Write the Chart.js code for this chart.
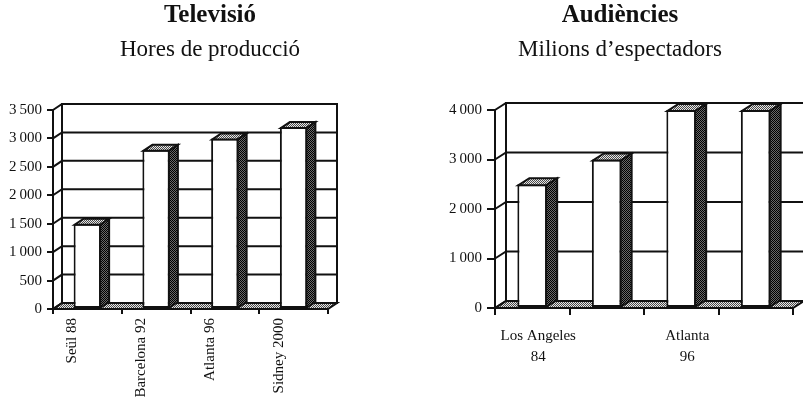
<!DOCTYPE html>
<html>
<head>
<meta charset="utf-8">
<script src="https://cdn.jsdelivr.net/npm/chart.js@4.4.1/dist/chart.umd.min.js"></script>
<style>
  html, body { margin: 0; padding: 0; background: #fff; overflow: hidden; }
  body { width: 803px; height: 405px; position: relative; }
  canvas { position: absolute; top: 0; }
  #tv { left: 0; }
  #aud { left: 410px; }
</style>
</head>
<body>
<canvas id="tv" width="420" height="405" style="width:420px;height:405px"></canvas>
<canvas id="aud" width="420" height="405" style="width:420px;height:405px"></canvas>
<script>
// Televisió: hores de producció per Jocs
const tvCategories = ['Seül 88', 'Barcelona 92', 'Atlanta 96', 'Sidney 2000'];
const tvHours = [1500, 2800, 3000, 3200];
const tvTickMax = 3500;
const tvTickStep = 500;

// Audiències: milions d'espectadors per Jocs
const audCategories = ['Los Angeles 84', 'Barcelona 92', 'Atlanta 96', 'Sidney 2000'];
const audViewers = [2500, 3000, 4000, 4000];
const audTickMax = 4000;
const audTickStep = 1000;

const SERIF = "'Liberation Serif', 'DejaVu Serif', serif";
const INK = '#111';

function makePattern(a, b) {
  const c = document.createElement('canvas');
  c.width = 2; c.height = 2;
  const g = c.getContext('2d');
  g.fillStyle = b; g.fillRect(0, 0, 2, 2);
  g.fillStyle = a; g.fillRect(0, 0, 1, 1); g.fillRect(1, 1, 1, 1);
  return g.createPattern(c, 'repeat');
}
const lightFill = makePattern('#4a4a4a', '#e6e6e6');
const darkFill = makePattern('#000', '#6a6a6a');

// thousands with a thin space: 3500 -> "3 500"
const thousands = v => String(v).replace(/\B(?=(\d{3})+$)/g, '\u2009');

// Pseudo-3D box: back wall, side wall, floor, and bar tops/sides
const box3d = {
  id: 'box3d',
  beforeDatasetsDraw(chart, args, opts) {
    const { ctx, chartArea: a, scales: { y } } = chart;
    const dx = opts.dx, dy = opts.dy;
    ctx.save();
    ctx.lineWidth = 2;
    ctx.strokeStyle = INK;
    // floor
    ctx.beginPath();
    ctx.moveTo(a.left, a.bottom);
    ctx.lineTo(a.right, a.bottom);
    ctx.lineTo(a.right + dx, a.bottom - dy);
    ctx.lineTo(a.left + dx, a.bottom - dy);
    ctx.closePath();
    ctx.fillStyle = lightFill;
    ctx.fill();
    ctx.stroke();
    // back wall
    ctx.strokeRect(a.left + dx, a.top - dy, a.right - a.left, a.bottom - a.top);
    // grid lines on the side wall and the back wall
    y.ticks.forEach(t => {
      const py = y.getPixelForValue(t.value);
      ctx.beginPath();
      ctx.moveTo(a.left, py);
      ctx.lineTo(a.left + dx, py - dy);
      ctx.lineTo(a.right + dx, py - dy);
      ctx.stroke();
    });
    ctx.restore();
  },
  afterDatasetsDraw(chart, args, opts) {
    const { ctx } = chart;
    const dx = opts.dx, dy = opts.dy;
    ctx.save();
    ctx.lineWidth = 2;
    ctx.strokeStyle = INK;
    chart.getDatasetMeta(0).data.forEach(bar => {
      const x0 = bar.x - bar.width / 2 + 1;
      const x1 = bar.x + bar.width / 2 - 1;
      const top = bar.y + 1;
      const base = bar.base;
      // top face
      ctx.beginPath();
      ctx.moveTo(x0, top);
      ctx.lineTo(x1, top);
      ctx.lineTo(x1 + dx, top - dy);
      ctx.lineTo(x0 + dx, top - dy);
      ctx.closePath();
      ctx.fillStyle = lightFill;
      ctx.fill();
      ctx.stroke();
      // side face
      ctx.beginPath();
      ctx.moveTo(x1, top);
      ctx.lineTo(x1 + dx, top - dy);
      ctx.lineTo(x1 + dx, base - dy);
      ctx.lineTo(x1, base);
      ctx.closePath();
      ctx.fillStyle = darkFill;
      ctx.fill();
      ctx.stroke();
    });
    ctx.restore();
  }
};

function buildChart(id, cfg) {
  return new Chart(document.getElementById(id), {
    type: 'bar',
    data: {
      labels: cfg.labels,
      datasets: [{
        data: cfg.values,
        backgroundColor: '#ffffff',
        borderColor: INK,
        borderWidth: 2,
        borderSkipped: false,
        barPercentage: 0.4,
        categoryPercentage: 1.0
      }]
    },
    options: {
      responsive: false,
      animation: false,
      events: [],
      layout: { padding: 0 },
      plugins: {
        legend: { display: false },
        tooltip: { enabled: false },
        title: {
          display: true,
          text: cfg.title,
          color: INK,
          font: { family: SERIF, size: 25, weight: 'bold', lineHeight: 1.2 },
          padding: { top: 1, bottom: 2 }
        },
        subtitle: {
          display: true,
          text: cfg.subtitle,
          color: INK,
          font: { family: SERIF, size: 23, weight: 'normal', lineHeight: 1.2 },
          padding: { top: 3.2, bottom: 46.2 }
        },
        box3d: { dx: cfg.dx, dy: cfg.dy }
      },
      scales: {
        x: {
          afterFit: s => { s.height = cfg.xHeight; },
          grid: {
            display: true, offset: true, drawOnChartArea: false,
            drawTicks: true, tickLength: cfg.xTick, color: INK, lineWidth: 2
          },
          border: { display: true, color: INK, width: 2 },
          ticks: {
            color: INK,
            font: { family: SERIF, size: 15, lineHeight: 1.4 },
            autoSkip: false,
            maxRotation: cfg.rotation, minRotation: cfg.rotation,
            labelOffset: cfg.labelOffset,
            padding: cfg.xPad,
            callback: cfg.xLabel
          }
        },
        y: {
          min: 0, max: cfg.max,
          afterFit: s => { s.width = cfg.yWidth; },
          grid: {
            display: true, drawOnChartArea: false,
            drawTicks: true, tickLength: cfg.yTick, color: INK, lineWidth: 2
          },
          border: { display: true, color: INK, width: 2 },
          ticks: {
            stepSize: cfg.step,
            color: INK,
            padding: 5,
            font: { family: SERIF, size: 15 },
            callback: thousands
          }
        },
        // empty right-hand axis that reserves room for the box depth
        depth: {
          position: 'right',
          min: 0, max: cfg.max,
          afterFit: s => { s.width = cfg.rightRoom; },
          grid: { display: false },
          border: { display: false },
          ticks: { display: false }
        }
      }
    },
    plugins: [box3d]
  });
}

buildChart('tv', {
  labels: tvCategories, values: tvHours,
  title: 'Televisió', subtitle: 'Hores de producció',
  max: tvTickMax, step: tvTickStep,
  rightRoom: 92, yWidth: 53, xHeight: 96,
  dx: 9, dy: 6, xTick: 5, yTick: 6,
  rotation: 90, labelOffset: -15, xPad: 4,
  xLabel: function (v, i) { return this.getLabelForValue(v); }
});

buildChart('aud', {
  labels: audCategories, values: audViewers,
  title: 'Audiències', subtitle: 'Milions d\u2019espectadors',
  max: audTickMax, step: audTickStep,
  rightRoom: 37, yWidth: 85, xHeight: 97,
  dx: 11, dy: 7, xTick: 7, yTick: 8,
  rotation: 0, labelOffset: 6, xPad: 11,
  xLabel: function (v, i) {
    if (i % 2 !== 0) return '';
    const s = this.getLabelForValue(v);
    const k = s.lastIndexOf(' ');
    return [s.slice(0, k), s.slice(k + 1)];
  }
});
</script>
</body>
</html>
